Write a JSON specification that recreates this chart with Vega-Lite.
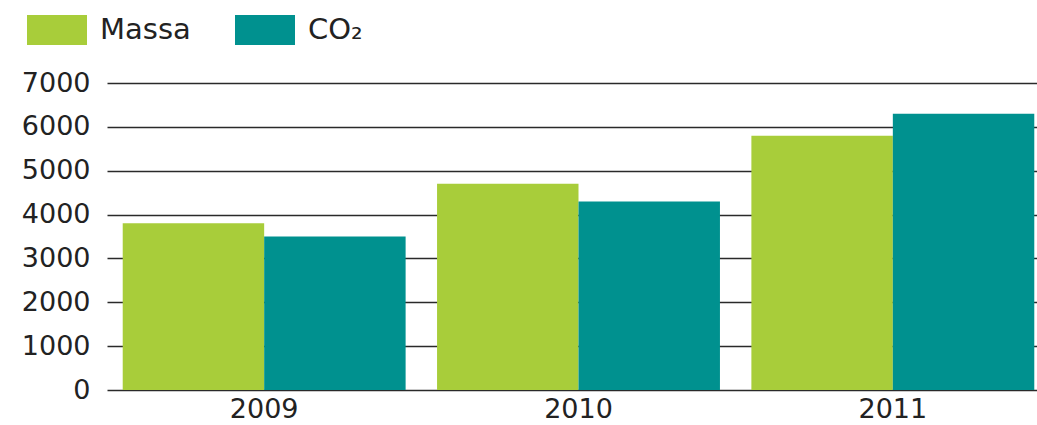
{
  "$schema": "https://vega.github.io/schema/vega-lite/v6.json",
  "autosize": "none",
  "width": 943,
  "height": 307,
  "padding": {"left": 107, "top": 83, "right": 0, "bottom": 35},
  "background": "white",
  "data": {
    "values": [
      {"year": "2009", "series": "Massa", "value": 3800},
      {"year": "2009", "series": "CO₂", "value": 3500},
      {"year": "2010", "series": "Massa", "value": 4700},
      {"year": "2010", "series": "CO₂", "value": 4300},
      {"year": "2011", "series": "Massa", "value": 5800},
      {"year": "2011", "series": "CO₂", "value": 6300}
    ]
  },
  "config": {
    "view": {"stroke": null},
    "font": "DejaVu Sans"
  },
  "mark": {"type": "bar"},
  "encoding": {
    "x": {
      "field": "year",
      "type": "nominal",
      "title": null,
      "scale": {"paddingInner": 0.1, "paddingOuter": 0.05},
      "axis": {
        "labelAngle": 0,
        "domain": false,
        "ticks": false,
        "labelFontSize": 27,
        "labelColor": "#222222",
        "labelPadding": 6
      }
    },
    "xOffset": {
      "field": "series",
      "type": "nominal",
      "scale": {"domain": ["Massa", "CO₂"], "paddingInner": 0, "paddingOuter": 0}
    },
    "y": {
      "field": "value",
      "type": "quantitative",
      "title": null,
      "scale": {"domain": [0, 7000], "nice": false},
      "axis": {
        "values": [0, 1000, 2000, 3000, 4000, 5000, 6000, 7000],
        "format": "d",
        "domain": false,
        "ticks": false,
        "grid": true,
        "gridColor": "#2a2a2a",
        "gridWidth": 1.6,
        "gridOpacity": 1,
        "labelFontSize": 27,
        "labelColor": "#222222",
        "labelPadding": 17
      }
    },
    "color": {
      "field": "series",
      "type": "nominal",
      "scale": {"domain": ["Massa", "CO₂"], "range": ["#a8cd3a", "#00918f"]},
      "legend": {
        "title": null,
        "orient": "none",
        "legendX": -80,
        "legendY": -83,
        "direction": "horizontal",
        "symbolType": "M-1,-0.5H1V0.5H-1Z",
        "symbolSize": 3600,
        "symbolStrokeWidth": 0,
        "symbolOpacity": 1,
        "labelFontSize": 29,
        "labelColor": "#222222",
        "labelOffset": 13,
        "columnPadding": 44,
        "labelLimit": 300
      }
    }
  }
}
